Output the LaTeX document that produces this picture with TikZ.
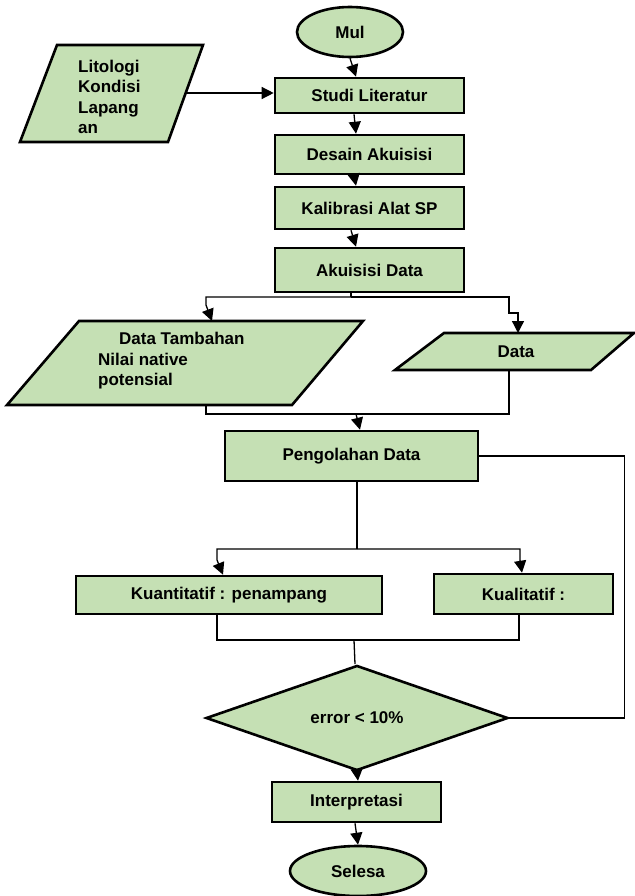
\documentclass[tikz,border=0pt]{standalone}
\usepackage{fontspec}
\setmainfont{Liberation Sans}
\usepackage{tikz}
\usetikzlibrary{arrows.meta,shapes.geometric,positioning}
\definecolor{hijau}{HTML}{C5E0B4}
\tikzset{
  kotak/.style={draw, line width=2.6pt, fill=hijau, inner sep=0pt},
  proses/.style={kotak, rectangle},
  terminal/.style={kotak, ellipse},
  keputusan/.style={kotak, diamond},
  garis/.style={line width=1.3pt},
  teks/.style={inner sep=0pt, align=left}
}

\begin{document}
\begin{tikzpicture}[x=1pt, y=-1pt, >={Triangle[length=12pt,width=12pt]},
  font=\bfseries\fontsize{17}{20.5}\selectfont]
  \useasboundingbox (0,0) rectangle (634,896);
  % terminal, proses, keputusan
  \node[terminal, minimum width=106pt, minimum height=50pt] (mul) at (350,32) {Mul};
  \node[proses, minimum width=189pt, minimum height=35pt] (studi) at (369.5,95.5) {Studi Literatur};
  \node[proses, minimum width=189pt, minimum height=39pt] (desain) at (369.5,154.5) {Desain Akuisisi};
  \node[proses, minimum width=189pt, minimum height=42pt] (kalibrasi) at (369.5,208) {Kalibrasi Alat SP};
  \node[proses, minimum width=189pt, minimum height=44pt] (akuisisi) at (369.5,270) {Akuisisi Data};
  \node[proses, minimum width=253pt, minimum height=50pt] (olah) at (351.5,456) {Pengolahan Data};
  \node[proses, minimum width=306pt, minimum height=38pt] (kuan) at (229,595) {Kuantitatif : penampang};
  \node[proses, minimum width=179pt, minimum height=40pt] (kual) at (523.5,594) {Kualitatif :};
  \node[keputusan, minimum width=302pt, minimum height=90pt] (cek) at (357,718) {error < 10\%};
  \node[proses, minimum width=169pt, minimum height=40pt] (interp) at (356.5,802) {Interpretasi};
  \node[terminal, minimum width=136pt, minimum height=50pt] (selesai) at (358,871) {Selesa};

  % input / output
  \draw[kotak] (57,45) -- (203,45) -- (168,142) -- (20,142) -- cycle;
  \node[teks, anchor=west] (lito) at (78,97) {Litologi\\Kondisi\\Lapang\\an};
  \draw[kotak] (79,321) -- (363,321) -- (292,405) -- (7,405) -- cycle;
  \node[teks, anchor=west] (tambahan) at (98,361) {\hspace*{21pt}Data Tambahan\\Nilai native\\potensial};
  \draw[kotak] (444,333) -- (634,333) -- (591,370) -- (395,370) -- cycle;
  \node (data) at (516,352) {Data};

  \coordinate (lito-out) at (186,93);
  \coordinate (tambahan-in) at (212,321);
  \coordinate (tambahan-out) at (206,405);
  \coordinate (data-in) at (518,333);
  \coordinate (data-out) at (509,370);
  \coordinate (bagi) at (351,297);
  \coordinate (gabung) at (356,414);
  \coordinate (cabang) at (357,549);
  \coordinate (satu) at (354,640);

  \draw[garis,->] (lito-out) -- (lito-out -| studi.west);
  \draw[garis,->] (mul.south) -- ([xshift=-13.5pt]studi.north);
  \draw[garis,->] ([xshift=-15.5pt]studi.south) -- ([xshift=-13.5pt]desain.north);
  \draw[garis,->] ([xshift=-15.5pt]desain.south) -- ([xshift=-13.5pt]kalibrasi.north);
  \draw[garis,->] ([xshift=-18.5pt]kalibrasi.south) -- ([xshift=-13.5pt]akuisisi.north);
  \draw[garis] ([xshift=-18.5pt]akuisisi.south) -- (bagi);
  \draw[garis,->] (bagi) -| (206,305) -- (tambahan-in);
  \draw[garis,->] (bagi) -| (509,313) -| (data-in);
  \draw[garis] (tambahan-out) |- (gabung) -| (data-out);
  \draw[garis,->] (gabung) -- ([xshift=8.5pt]olah.north);
  \draw[garis] (olah.east) -- ++(145,0) |- (cek.east);
  \draw[garis] ([xshift=5.5pt]olah.south) -- (cabang);
  \draw[garis,->] (cabang) -| (217,560) -- ([xshift=-6pt]kuan.north);
  \draw[garis,->] (cabang) -| (520,560) -- ([xshift=-1.5pt]kual.north);
  \draw[garis] ([xshift=-12pt]kuan.south) |- (satu) -| ([xshift=-4.5pt]kual.south);
  \draw[garis] (satu) -- ([xshift=-2pt]cek.north);
  \draw[garis,->] (cek.south) -- ([xshift=1.5pt]interp.north);
  \draw[garis,->] ([xshift=-1.5pt]interp.south) -- (selesai.north);
\end{tikzpicture}
\end{document}
